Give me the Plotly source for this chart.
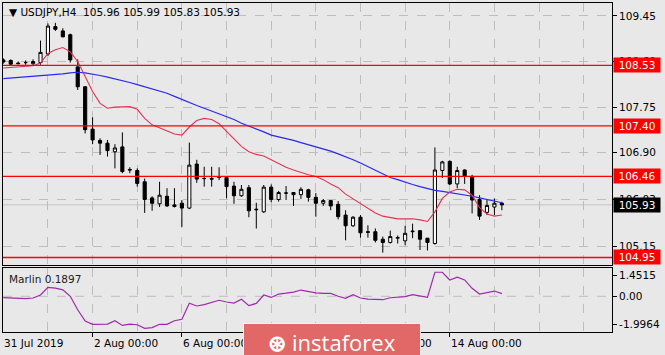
import plotly.graph_objects as go

# ---------------- data ----------------
bars = list(range(68))
opens = [108.63,108.62,108.57,108.58,108.56,108.58,108.74,109.25,109.17,109.10,
         108.50,108.13,107.34,107.13,107.08,106.92,107.01,106.59,106.57,106.36,
         106.06,105.95,106.09,105.90,105.96,105.87,106.69,106.42,106.42,106.44,
         106.44,106.28,106.10,106.25,105.85,105.80,106.26,106.03,106.15,106.16,
         106.12,106.21,106.07,105.96,106.01,105.94,105.74,105.54,105.70,105.43,
         105.43,105.29,105.23,105.31,105.26,105.43,105.45,105.31,105.21,106.57,
         106.74,106.32,106.58,106.46,106.03,105.79,105.89,105.96]
highs = [108.66,108.64,108.60,108.62,108.64,108.99,109.31,109.32,109.22,109.12,
         108.64,108.14,107.56,107.17,107.14,107.06,107.28,106.63,106.61,106.42,
         106.09,106.36,106.24,106.24,106.02,107.09,106.77,106.64,106.64,106.63,
         106.46,106.36,106.30,106.30,105.97,106.30,106.31,106.19,106.28,106.17,
         106.26,106.23,106.15,106.04,106.02,106.00,105.83,105.72,105.74,105.55,
         105.49,105.34,105.45,105.36,105.54,105.58,105.45,105.31,107.00,106.75,
         106.76,106.64,106.59,106.49,106.11,106.02,106.05,105.99]
lows = [108.56,108.52,108.55,108.54,108.53,108.54,108.70,109.17,109.05,108.58,
        108.07,107.26,107.06,106.86,106.83,106.61,106.52,106.52,106.27,105.78,
        105.82,105.89,105.89,105.88,105.52,105.85,106.34,106.27,106.27,106.39,
        106.05,105.95,106.08,105.70,105.49,105.78,105.98,105.99,106.02,105.91,
        106.04,105.99,105.71,105.91,105.83,105.66,105.27,105.52,105.32,105.32,
        105.23,105.04,105.21,105.21,105.18,105.31,105.09,105.08,105.19,106.43,
        106.30,106.24,106.32,105.77,105.65,105.74,105.74,105.83]
closes = [108.59,108.55,108.56,108.58,108.60,108.77,109.26,109.20,109.06,108.63,
          108.13,107.33,107.14,107.08,106.94,106.99,106.55,106.58,106.33,106.03,
          105.96,106.11,105.91,105.93,105.87,106.67,106.41,106.42,106.41,106.45,
          106.27,106.10,106.22,105.82,105.84,106.26,106.03,106.16,106.15,106.12,
          106.22,106.07,105.96,106.01,105.91,105.71,105.54,105.70,105.41,105.42,
          105.27,105.23,105.34,105.32,105.40,105.44,105.29,105.23,106.58,106.73,
          106.32,106.57,106.47,106.02,105.72,105.92,105.96,105.93]
ma_blue = [108.28,108.29,108.30,108.31,108.32,108.33,108.34,108.36,108.37,108.39,
           108.40,108.39,108.37,108.34,108.31,108.28,108.25,108.21,108.17,108.13,
           108.09,108.05,108.01,107.95,107.89,107.83,107.78,107.73,107.68,107.63,
           107.58,107.52,107.45,107.40,107.35,107.29,107.23,107.20,107.16,107.13,
           107.09,107.05,107.02,106.98,106.93,106.88,106.83,106.77,106.71,106.64,
           106.57,106.51,106.44,106.40,106.35,106.31,106.27,106.23,106.20,106.18,
           106.16,106.14,106.12,106.09,106.06,106.03,106.00,105.97]
ma_red = [108.48,108.49,108.50,108.51,108.52,108.57,108.75,108.82,108.86,108.78,
          108.60,108.32,108.04,107.82,107.73,107.75,107.76,107.76,107.71,107.54,
          107.42,107.36,107.31,107.25,107.23,107.38,107.50,107.54,107.52,107.44,
          107.30,107.15,107.02,106.92,106.87,106.84,106.77,106.70,106.63,106.58,
          106.53,106.49,106.46,106.40,106.32,106.25,106.13,106.04,105.96,105.87,
          105.78,105.72,105.69,105.67,105.67,105.67,105.65,105.62,105.80,106.05,
          106.17,106.22,106.21,106.11,105.88,105.76,105.72,105.74]
marlin = [-0.10,-0.13,-0.15,-0.16,-0.12,0.09,0.63,0.58,0.45,0.00,
          -0.95,-1.74,-1.97,-1.95,-1.95,-1.72,-2.05,-1.95,-2.00,-2.25,
          -2.20,-1.97,-1.97,-1.72,-1.62,-0.49,-0.68,-0.58,-0.45,-0.28,
          -0.40,-0.48,-0.21,-0.66,-0.50,0.09,-0.08,0.16,0.22,0.30,
          0.44,0.35,0.24,0.21,0.20,0.00,-0.14,0.12,-0.12,-0.20,
          -0.24,-0.24,-0.10,-0.08,-0.02,0.12,0.02,-0.07,1.69,1.69,
          1.15,1.34,1.15,0.56,0.16,0.28,0.37,0.19]

levels = [108.53, 107.40, 106.46, 104.95]
price_ticks = [109.45, 108.60, 107.75, 106.90, 106.03, 105.15]
price_tick_text = ["109.45", "108.60", "107.75", "106.90", "106.03", "105.15"]
osc_ticks = [1.4515, 0.0, -1.9964]
osc_tick_text = ["1.4515", "0.00", "-1.9964"]
date_pos = [0, 12, 24, 36, 48, 60]
date_labels = ["31 Jul 2019", "2 Aug 00:00", "6 Aug 00:00", "8 Aug 00:00",
               "12 Aug 00:00", "14 Aug 00:00"]
header = "▼ USDJPY,H4  105.96 105.99 105.83 105.93"
osc_title = "Marlin 0.1897"

# ---------------- styling ----------------
BG = "#e8e8e8"
GRID = "#bdbdbd"
FONT = "DejaVu Sans"
W, H = 665, 355
XL, XR = 3, 612
MAIN_T, MAIN_B = 3, 265
SUB_T, SUB_B = 268, 332


def py(px):
    return 1 - px / H

fig = go.Figure()
fig.add_trace(go.Candlestick(
    x=bars, open=opens, high=highs, low=lows, close=closes,
    increasing=dict(line=dict(color="black", width=1), fillcolor="white"),
    decreasing=dict(line=dict(color="black", width=1), fillcolor="black"),
    whiskerwidth=0, xaxis="x", yaxis="y", showlegend=False, hoverinfo="skip"))
fig.add_trace(go.Scatter(x=bars, y=ma_blue, mode="lines", xaxis="x", yaxis="y",
                         line=dict(color="rgb(40,40,250)", width=1.2), hoverinfo="skip"))
fig.add_trace(go.Scatter(x=bars, y=ma_red, mode="lines", xaxis="x", yaxis="y",
                         line=dict(color="rgb(225,50,85)", width=1.1), hoverinfo="skip"))
fig.add_trace(go.Scatter(x=bars, y=marlin, mode="lines", xaxis="x2", yaxis="y2",
                         line=dict(color="rgb(160,40,170)", width=1.2), hoverinfo="skip"))

shapes = []
# bid line
shapes.append(dict(type="line", xref="x domain", x0=0, x1=1, yref="y",
                   y0=closes[-1], y1=closes[-1], line=dict(color="#c4c4c4", width=1),
                   layer="below"))
for lv in levels:
    shapes.append(dict(type="line", xref="x domain", x0=0, x1=1, yref="y",
                       y0=lv, y1=lv, line=dict(color="red", width=1.3)))
shapes.append(dict(type="line", xref="x2 domain", x0=0, x1=1, yref="y2",
                   y0=0, y1=0, line=dict(color=GRID, width=1, dash="dash"), layer="below"))

annotations = []
annotations.append(dict(text=header, xref="paper", yref="paper", x=7 / W, y=py(12),
                        xanchor="left", yanchor="middle", showarrow=False,
                        font=dict(family=FONT, size=10.5, color="black")))
annotations.append(dict(text=osc_title, xref="paper", yref="paper", x=7 / W, y=py(279),
                        xanchor="left", yanchor="middle", showarrow=False,
                        font=dict(family=FONT, size=10.5, color="#202020")))
for pos, lab in zip(date_pos, date_labels):
    annotations.append(dict(text=lab, xref="x2", yref="paper", x=pos, y=py(343),
                            xanchor="left", yanchor="middle", showarrow=False,
                            xshift=-1,
                            font=dict(family=FONT, size=10.5, color="black")))
for lv in levels:
    annotations.append(dict(text=f"{lv:.2f}", xref="paper", yref="y", x=613 / W, y=lv,
                            xanchor="left", yanchor="middle", showarrow=False,
                            bgcolor="red", width=44, height=12, borderpad=1,
                            font=dict(family=FONT, size=10.5, color="white")))
annotations.append(dict(text=f"{closes[-1]:.2f}", xref="paper", yref="y", x=613 / W,
                        y=closes[-1], xanchor="left", yanchor="middle", showarrow=False,
                        bgcolor="black", width=44, height=12, borderpad=1,
                        font=dict(family=FONT, size=10.5, color="white")))
# watermark (drawn last so it covers the hidden date labels)
annotations.append(dict(text="<b>⊛</b> instaforex", xref="paper", yref="paper",
                        x=243 / W, y=py(323), xanchor="left", yanchor="top",
                        showarrow=False, bgcolor="rgb(226,104,104)",
                        bordercolor="rgba(255,255,255,0.8)", borderwidth=1,
                        width=176, height=36, borderpad=0,
                        font=dict(family="Open Sans", size=22, color="white")))

axis_common = dict(showline=True, linecolor="black", linewidth=1, mirror=True,
                   zeroline=False)
fig.update_layout(
    width=W, height=H, margin=dict(l=0, r=0, t=0, b=0),
    paper_bgcolor=BG, plot_bgcolor=BG, showlegend=False, boxgap=0.4,
    xaxis=dict(domain=[XL / W, XR / W], range=[-0.04, 81.8], anchor="y",
               tickmode="linear", tick0=0, dtick=6, showticklabels=False, ticks="",
               showgrid=True, gridcolor=GRID, griddash="dash", gridwidth=1,
               rangeslider=dict(visible=False), **axis_common),
    yaxis=dict(domain=[py(MAIN_B), py(MAIN_T)], range=[104.81, 109.69], anchor="x",
               side="right", tickmode="array", tickvals=price_ticks,
               ticktext=price_tick_text, ticks="outside", ticklen=4, tickcolor="black",
               showgrid=True, gridcolor=GRID, griddash="dash", gridwidth=1,
               tickfont=dict(family=FONT, size=10.5, color="black"), **axis_common),
    xaxis2=dict(domain=[XL / W, XR / W], range=[-0.04, 81.8], anchor="y2",
                tickmode="array", tickvals=date_pos[1:], showticklabels=False,
                ticks="outside", ticklen=4, tickcolor="black",
                showgrid=True, gridcolor=GRID, griddash="dash",
                minor=dict(tickmode="linear", tick0=0, dtick=6, showgrid=True,
                           gridcolor=GRID, griddash="dash", ticks=""),
                **axis_common),
    yaxis2=dict(domain=[py(SUB_B), py(SUB_T)], range=[-2.51, 1.99], anchor="x2",
                side="right", tickmode="array", tickvals=osc_ticks,
                ticktext=osc_tick_text, ticks="outside", ticklen=4, tickcolor="black",
                showgrid=False,
                tickfont=dict(family=FONT, size=10.5, color="black"), **axis_common),
    shapes=shapes, annotations=annotations,
)

fig.write_html("out.html",
               config={"displayModeBar": False, "staticPlot": True},
               post_script="document.body.style.margin='0';"
                           "document.body.style.overflow='hidden';")
